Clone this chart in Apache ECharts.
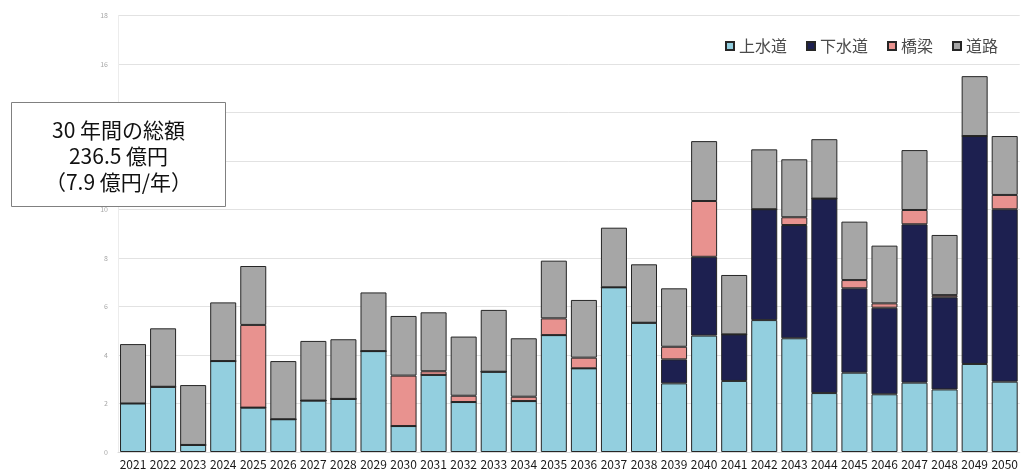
<!DOCTYPE html>
<html>
<head>
<meta charset="utf-8">
<script src="https://cdn.jsdelivr.net/npm/echarts@6/dist/echarts.min.js"></script>
<style>
  html, body { margin: 0; padding: 0; background: #fff; }
  #chart { width: 1021px; height: 475px; }
</style>
</head>
<body>
<div id="chart"></div>
<script>
// 年度
const years = ['2021','2022','2023','2024','2025','2026','2027','2028','2029','2030',
               '2031','2032','2033','2034','2035','2036','2037','2038','2039','2040',
               '2041','2042','2043','2044','2045','2046','2047','2048','2049','2050'];

// 更新費用（億円）
const waterSupply = [2.00, 2.69, 0.29, 3.75, 1.83, 1.35, 2.12, 2.19, 4.16, 1.07,
                     3.18, 2.06, 3.31, 2.10, 4.82, 3.45, 6.79, 5.33, 2.83, 4.80,
                     2.93, 5.44, 4.69, 2.43, 3.27, 2.38, 2.86, 2.58, 3.63, 2.90];
const sewerage    = [0, 0, 0, 0, 0, 0, 0, 0, 0, 0,
                     0, 0, 0, 0, 0, 0, 0, 0, 0.99, 3.25,
                     1.92, 4.57, 4.67, 8.02, 3.48, 3.57, 6.53, 3.80, 9.40, 7.11];
const bridges     = [0, 0, 0, 0, 3.41, 0, 0, 0, 0, 2.08,
                     0.15, 0.26, 0, 0.18, 0.69, 0.44, 0, 0, 0.52, 2.30,
                     0, 0, 0.32, 0, 0.34, 0.18, 0.59, 0.09, 0, 0.59];
const roads       = [2.45, 2.41, 2.47, 2.42, 2.43, 2.40, 2.46, 2.46, 2.42, 2.46,
                     2.43, 2.44, 2.55, 2.41, 2.38, 2.38, 2.46, 2.41, 2.41, 2.47,
                     2.45, 2.47, 2.39, 2.45, 2.41, 2.38, 2.47, 2.48, 2.47, 2.43];

const seriesNames = ['上水道', '下水道', '橋梁', '道路'];
const seriesColors = ['#93cfdf', '#1d2050', '#e8928f', '#a6a6a6'];
const seriesData = [waterSupply, sewerage, bridges, roads];

// 枠内の注記
const noteLines = ['30 年間の総額', '236.5 億円', '（7.9 億円/年）'];

const FONT = '"Noto Sans CJK JP", "Noto Sans", sans-serif';

const chart = echarts.init(document.getElementById('chart'), null, { renderer: 'canvas' });

chart.setOption({
  backgroundColor: '#ffffff',
  animation: false,
  textStyle: { fontFamily: FONT },
  grid: { left: 118, right: 0, top: 15.5, bottom: 23, containLabel: false },
  legend: {
    data: seriesNames,
    right: 18,
    top: 33,
    icon: 'rect',
    itemWidth: 8,
    itemHeight: 8,
    itemGap: 19,
    textStyle: { fontSize: 16, color: '#4a4a4a', fontFamily: FONT }
  },
  xAxis: {
    type: 'category',
    data: years,
    axisTick: { show: false },
    axisLine: { show: true, lineStyle: { color: '#d9d9d9', width: 1 } },
    axisLabel: { fontSize: 12, color: '#1a1a1a', margin: 6, fontFamily: FONT, interval: 0 }
  },
  yAxis: {
    type: 'value',
    min: 0,
    max: 18,
    interval: 2,
    axisLine: { show: true, lineStyle: { color: '#ececec', width: 1 } },
    axisTick: { show: false },
    axisLabel: { fontSize: 7, color: '#a8a8a8', margin: 10 },
    splitLine: { lineStyle: { color: '#e2e2e2', width: 1 } }
  },
  series: seriesNames.map((name, i) => ({
    name: name,
    type: 'bar',
    stack: 'total',
    data: seriesData[i],
    barWidth: 26,
    itemStyle: {
      color: seriesColors[i],
      borderColor: '#262626',
      borderWidth: 1
    },
    emphasis: { disabled: true }
  })),
  graphic: [
    {
      type: 'rect',
      zlevel: 1,
      z: 100,
      shape: { x: 11.5, y: 102.5, width: 214, height: 104 },
      style: { fill: '#ffffff', stroke: '#808080', lineWidth: 1 }
    },
    {
      type: 'text',
      zlevel: 1,
      z: 101,
      x: 118.5,
      y: 156,
      style: {
        text: noteLines.join('\n'),
        fill: '#111111',
        font: '21px ' + FONT,
        align: 'center',
        verticalAlign: 'middle',
        lineHeight: 26
      }
    }
  ]
});
</script>
</body>
</html>
